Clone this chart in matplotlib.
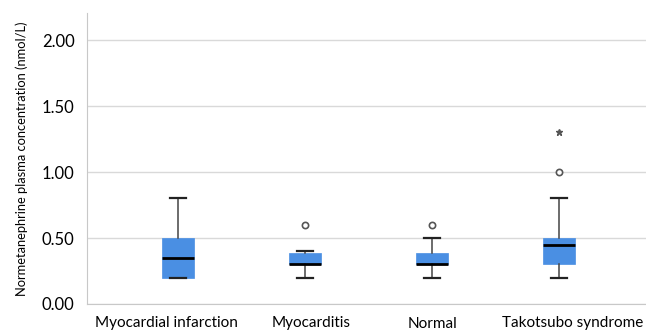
import numpy as np
import matplotlib
matplotlib.use('Agg')
import matplotlib.pyplot as plt
import matplotlib.transforms as mtransforms

plt.rcParams['font.family'] = ['Lato', 'DejaVu Sans']

#box summary values (nmol/L)
groups = ['Myocardial infarction', 'Myocarditis', 'Normal', 'Takotsubo syndrome']
whis_lo = [0.20, 0.20, 0.20, 0.20]
q1 = [0.20, 0.30, 0.30, 0.30]
med = [0.35, 0.30, 0.30, 0.45]
q3 = [0.50, 0.39, 0.39, 0.50]
whis_hi = [0.80, 0.40, 0.50, 0.80]
outliers = [[], [0.60], [0.60], [1.00]]
extremes = [[], [], [], [1.30]]
yticks = [0.0, 0.5, 1.0, 1.5, 2.0]

stats = []
for i in range(len(groups)):
    stats.append({'whislo': whis_lo[i], 'q1': q1[i], 'med': med[i], 'q3': q3[i],
                  'whishi': whis_hi[i], 'fliers': outliers[i], 'label': groups[i]})

fig = plt.figure(figsize=(6.46, 3.31), dpi=100)
ax = fig.add_axes([87 / 646, 27 / 331, 1 - 87 / 646, 291 / 331])

pos = np.arange(len(groups))
ax.bxp(stats, positions=pos, widths=0.245, patch_artist=True,
       boxprops=dict(facecolor='#4a8fe3', edgecolor='#4a8fe3', linewidth=0.5),
       medianprops=dict(color='black', linewidth=2),
       whiskerprops=dict(color='#444444', linewidth=1.1),
       capprops=dict(color='#222222', linewidth=1.6),
       capwidths=0.13,
       flierprops=dict(marker='o', markersize=4.5, markerfacecolor='white',
                       markeredgecolor='#555555', markeredgewidth=1.2))

for i in range(len(groups)):
    if extremes[i]:
        ax.plot([pos[i]] * len(extremes[i]), extremes[i], linestyle='none',
                marker='*', markersize=4.5, color='#555555')

ax.set_xlim(-0.717, 3.685)
ax.set_ylim(0, 2.205)
ax.set_yticks(yticks)
ax.set_yticklabels(['%.2f' % v for v in yticks], fontsize=12)
ax.set_xticks(pos)
ax.set_xticklabels(groups, fontsize=11)
ax.tick_params(axis='y', length=0, pad=9)
ax.tick_params(axis='x', length=0, pad=9)

#category labels in the source sit a little off the box centres
shifts = [-12, 6, 0, 14]
for lab, dx in zip(ax.get_xticklabels(), shifts):
    lab.set_transform(lab.get_transform() + mtransforms.ScaledTranslation(dx / 100, 0, fig.dpi_scale_trans))

ax.grid(axis='y', color='#d9d9d9', linewidth=1)
ax.set_axisbelow(True)
for s in ['top', 'right']:
    ax.spines[s].set_visible(False)
ax.spines['left'].set_color('#c8c8c8')
ax.spines['bottom'].set_color('#c8c8c8')
ax.set_ylabel('Normetanephrine plasma concentration (nmol/L)', fontsize=9.3, labelpad=10)

fig.savefig('out.png', dpi=100)
